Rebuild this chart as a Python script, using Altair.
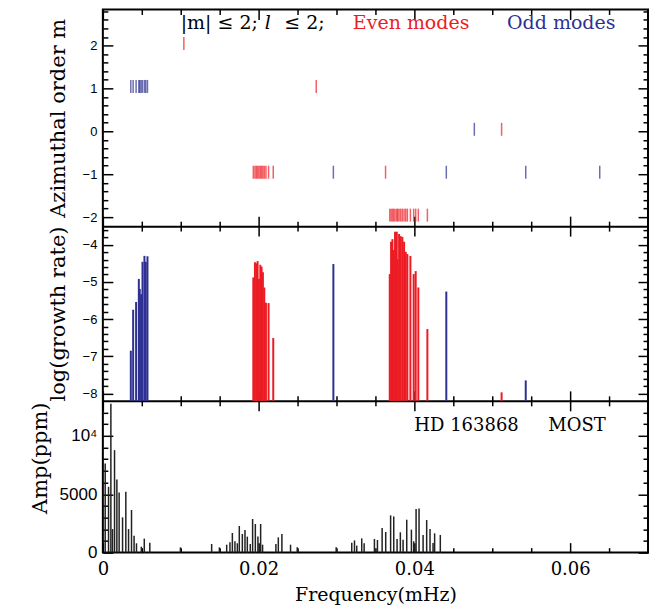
import altair as alt
import pandas as pd

RED = "#ec1c24"
BLUE = "#2e3192"

# ---------------- top panel: azimuthal order of modes ----------------
top_odd_m1 = [0.00359, 0.00389, 0.00427, 0.00462, 0.00474, 0.00491, 0.00509, 0.00534, 0.00551, 0.00573]
top_even_m2 = [0.0104]
top_even_m1 = [0.0274]
top_odd_m0 = [0.0477]
top_even_m0 = [0.0512]
top_even_mm1 = [0.01932, 0.01953, 0.01971, 0.01987, 0.02004, 0.02022, 0.02038, 0.02055,
                0.02073, 0.02094, 0.02128, 0.02188, 0.0363]
top_odd_mm1 = [0.0296, 0.0441, 0.0543, 0.0638]
top_even_mm2 = [0.03684, 0.03701, 0.03718, 0.03735, 0.03752, 0.03774, 0.03786, 0.03804,
                0.03825, 0.03846, 0.03868, 0.03889, 0.03910, 0.03949, 0.03991, 0.04017,
                0.04051, 0.04167]

# ---------------- middle panel: log growth rate ----------------
mid_odd_freq = [0.00359, 0.00389, 0.00427, 0.00462, 0.00474, 0.00491, 0.00509, 0.00534, 0.00551, 0.00573,
                0.0296, 0.0441, 0.0543]
mid_odd_lg = [-6.85, -5.75, -5.54, -4.92, -5.19, -5.33, -4.46, -4.30, -4.46, -4.31,
              -4.52, -5.26, -7.65]
mid_even_freq = [0.01932, 0.01953, 0.01971, 0.01987, 0.02004, 0.02022, 0.02038, 0.02055,
                 0.02073, 0.02094, 0.02128, 0.02188,
                 0.03684, 0.03701, 0.03718, 0.03735, 0.03752, 0.03774, 0.03786, 0.03804,
                 0.03825, 0.03846, 0.03868, 0.03889, 0.03910, 0.03949, 0.03991, 0.04017,
                 0.04051, 0.04167, 0.0512]
mid_even_lg = [-4.88, -4.47, -4.50, -4.44, -4.92, -4.54, -4.59, -4.74,
               -5.15, -5.56, -5.57, -6.51,
               -4.79, -3.92, -3.85, -4.14, -3.65, -3.65, -4.39, -3.71,
               -3.77, -3.79, -3.92, -4.19, -4.25, -4.30, -4.79, -4.71,
               -5.15, -6.27, -7.97]

# ---------------- bottom panel: observed amplitude spectrum ----------------
amp_freq = [0.0003, 0.00073, 0.00103, 0.00124, 0.0015, 0.0018, 0.00209, 0.00253, 0.00295, 0.0033,
            0.00368, 0.00401, 0.00432, 0.00494, 0.00532, 0.00603, 0.00996, 0.01397, 0.01496, 0.0159,
            0.01632, 0.01663, 0.01696, 0.01727, 0.01752, 0.01791, 0.01825, 0.01855, 0.01893, 0.01923,
            0.01958, 0.01991, 0.02026, 0.02051, 0.02222, 0.02253, 0.02299, 0.0241, 0.02496, 0.02996,
            0.03196, 0.03231, 0.0326, 0.03324, 0.03355, 0.03487, 0.03526, 0.03586, 0.03632, 0.03695,
            0.03735, 0.03778, 0.0382, 0.03855, 0.03902, 0.03962, 0.03991, 0.04022, 0.0406, 0.04112,
            0.04158, 0.04201, 0.0424, 0.0426, 0.04333]
amp_val = [7630, 5640, 12760, 2020, 8780, 6270, 5160, 3020, 5210, 2020,
           3650, 1450, 800, 510, 1200, 850, 450, 740, 450, 680,
           880, 1680, 970, 800, 2280, 1600, 1940, 1370, 740, 2880,
           2450, 1390, 2450, 680, 740, 1310, 1600, 680, 450, 450,
           850, 1050, 600, 1220, 800, 1170, 1080, 2110, 1770, 3190,
           3100, 1170, 1740, 1110, 2820, 1970, 970, 3730, 3790, 1510,
           2790, 2020, 830, 1650, 1510]

# ---------------- axes ----------------
X_DOM = [0, 0.07]
X_MAJOR = [0, 0.02, 0.04, 0.06]
X_MINOR = [0.005, 0.01, 0.015, 0.025, 0.03, 0.035, 0.045, 0.05, 0.055, 0.065]

TOP_DOM = [-2.21, 2.84]
TOP_MAJOR = [-2, -1, 0, 1, 2]
TOP_MINOR = [-1.8, -1.6, -1.4, -1.2, -0.8, -0.6, -0.4, -0.2, 0.2, 0.4, 0.6, 0.8,
             1.2, 1.4, 1.6, 1.8, 2.2, 2.4, 2.6, 2.8]

MID_DOM = [-8.2, -3.5]
MID_MAJOR = [-8, -7, -6, -5, -4]
MID_MINOR = [-7.8, -7.6, -7.4, -7.2, -6.8, -6.6, -6.4, -6.2, -5.8, -5.6, -5.4, -5.2,
             -4.8, -4.6, -4.4, -4.2, -3.8, -3.6]

BOT_DOM = [0, 13000]
BOT_MAJOR = [0, 5000, 10000]
BOT_MINOR = [1000, 2000, 3000, 4000, 6000, 7000, 8000, 9000, 11000, 12000]

# ---------------- annotations ----------------
top_text = ["|m| ≤ 2;", "≤ 2;", "Even modes", "Odd modes"]
top_text_f = [0.0100, 0.0233, 0.0321, 0.0519]
top_text_col = ["black", "black", RED, BLUE]
top_ital = ["l"]
top_ital_f = [0.0208]
TOP_TEXT_M = 2.53
bot_text = ["HD 163868", "MOST"]
bot_text_f = [0.0400, 0.0572]
BOT_TEXT_AMP = 10850

# ---------------- layout ----------------
W = 546
H_TOP, H_MID, H_BOT = 217, 175, 152
H = H_TOP + H_MID + H_BOT
SERIF = "DejaVu Serif"
SANS = "Liberation Sans"

PANELS = {
    "top": dict(dom=TOP_DOM, rng=[H_TOP, 0], major=TOP_MAJOR, minor=TOP_MINOR,
                title="Azimuthal order m", lab_size=13, lab_expr=None, tpad=14, title_y=None),
    "mid": dict(dom=MID_DOM, rng=[H_TOP + H_MID, H_TOP], major=MID_MAJOR, minor=MID_MINOR,
                title="log(growth rate)", lab_size=13, lab_expr=None, tpad=14, title_y=None),
    "bot": dict(dom=BOT_DOM, rng=[H, H_TOP + H_MID], major=BOT_MAJOR, minor=BOT_MINOR,
                title="Amp(ppm)", lab_size=17,
                lab_expr="datum.value == 10000 ? '10⁴' : format(datum.value, 'd')",
                tpad=9, title_y=H_TOP + H_MID + 57),
}

XSCALE = alt.Scale(domain=X_DOM, nice=False, zero=False)


def yscale(p):
    return alt.Scale(domain=PANELS[p]["dom"], range=PANELS[p]["rng"], nice=False, zero=False)


def xs():
    return alt.X("f:Q", scale=XSCALE, axis=None)


def ys(p, field):
    return alt.Y(f"{field}:Q", scale=yscale(p), axis=None)


def frame_layers(p):
    P = PANELS[p]
    bottom_px, top_px = P["rng"]
    is_bot = p == "bot"
    df = pd.DataFrame({"f": [X_DOM[0]], "v": [P["dom"][0]]})
    specs = [("bottom", "left", X_MAJOR, P["major"], 10, True),
             ("bottom", "left", X_MINOR, P["minor"], 5, False),
             ("top", "right", X_MAJOR, P["major"], 10, False),
             ("top", "right", X_MINOR, P["minor"], 5, False)]
    out = []
    for xo, yo, xv, yv, ts, main in specs:
        xoff = (bottom_px - H) if xo == "bottom" else -top_px
        xa = dict(orient=xo, offset=xoff, values=xv, tickSize={"expr": str(-ts)},
                  domain=False, grid=False, labels=False, title=None,
                  minExtent=0, maxExtent=200)
        ya = dict(orient=yo, values=yv, tickSize={"expr": str(-ts)}, domain=False,
                  grid=False, labels=main, title=None, minExtent=0, maxExtent=200)
        if main and not is_bot:
            # separator line between panels
            xa.update(domain=True, domainColor="black", domainWidth=2)
        if main and is_bot:
            xa.update(labels=True, labelFont=SERIF, labelFontSize=18, labelPadding=18,
                      labelFlush=False, labelColor="black",
                      labelExpr="datum.value == 0 ? '0' : format(datum.value, '.2f')",
                      title="Frequency(mHz)", titleFont=SERIF, titleFontSize=19,
                      titleFontWeight="normal", titlePadding=7, titleColor="black")
        if main:
            ya.update(labelFont=SANS, labelFontSize=P["lab_size"], labelPadding=16,
                      labelColor="black", title=P["title"], titleFont=SERIF,
                      titleFontSize=21, titleFontWeight="normal",
                      titlePadding=P["tpad"], titleColor="black")
            if P["lab_expr"]:
                ya.update(labelExpr=P["lab_expr"])
            if P["title_y"] is not None:
                ya.update(titleY=P["title_y"])
        out.append(
            alt.Chart(df).mark_point(opacity=0, size=1).encode(
                x=alt.X("f:Q", scale=XSCALE, axis=alt.Axis(**xa)),
                y=alt.Y("v:Q", scale=yscale(p), axis=alt.Axis(**ya)),
            )
        )
    return out


pcol = alt.Color("parity:N", scale=alt.Scale(domain=["even", "odd"], range=[RED, BLUE]), legend=None)

# ---- top panel marks
top_rows = []
for lst, m, par in [(top_odd_m1, 1, "odd"), (top_even_m2, 2, "even"), (top_even_m1, 1, "even"),
                    (top_odd_m0, 0, "odd"), (top_even_m0, 0, "even"), (top_even_mm1, -1, "even"),
                    (top_odd_mm1, -1, "odd"), (top_even_mm2, -2, "even")]:
    for f in lst:
        top_rows.append({"f": f, "m": m, "parity": par})
top_df = pd.DataFrame(top_rows)
top_ticks = alt.Chart(top_df).mark_tick(orient="vertical", size=13, thickness=1.5, yOffset=-2).encode(
    x=xs(), y=ys("top", "m"), color=pcol)
ttxt = pd.DataFrame({"f": top_text_f, "txt": top_text, "col": top_text_col,
                     "m": [TOP_TEXT_M] * len(top_text)})
top_txt = alt.Chart(ttxt).mark_text(align="left", baseline="middle", font=SERIF, fontSize=19).encode(
    x=xs(), y=ys("top", "m"), text="txt:N", color=alt.Color("col:N", scale=None))
itxt = pd.DataFrame({"f": top_ital_f, "txt": top_ital, "m": [TOP_TEXT_M] * len(top_ital)})
top_ital_txt = alt.Chart(itxt).mark_text(align="left", baseline="middle", font=SERIF, fontSize=19,
                                         fontStyle="italic", color="black").encode(
    x=xs(), y=ys("top", "m"), text="txt:N")

# ---- middle panel marks
mid_df = pd.DataFrame({"f": mid_odd_freq + mid_even_freq, "lg": mid_odd_lg + mid_even_lg,
                       "parity": ["odd"] * len(mid_odd_freq) + ["even"] * len(mid_even_freq)})
mid_bars = alt.Chart(mid_df).mark_rule(strokeWidth=2).encode(
    x=xs(), y=ys("mid", "lg"), y2=alt.datum(MID_DOM[0]), color=pcol)

# ---- bottom panel marks
bot_df = pd.DataFrame({"f": amp_freq, "amp": amp_val})
bot_bars = alt.Chart(bot_df).mark_rule(strokeWidth=1.5, color="#222222").encode(
    x=xs(), y=ys("bot", "amp"), y2=alt.datum(0))
btxt = pd.DataFrame({"f": bot_text_f, "txt": bot_text, "amp": [BOT_TEXT_AMP] * len(bot_text)})
bot_txt = alt.Chart(btxt).mark_text(align="left", baseline="middle", font=SERIF, fontSize=18,
                                    color="black").encode(x=xs(), y=ys("bot", "amp"), text="txt:N")

layers = [top_ticks, top_txt, top_ital_txt, mid_bars, bot_bars, bot_txt]
for p in ["top", "mid", "bot"]:
    layers += frame_layers(p)

chart = alt.layer(*layers).resolve_scale(y="independent").resolve_axis(
    x="independent", y="independent"
).properties(
    width=W, height=H,
    padding={"left": 21, "top": 0, "right": 5, "bottom": 5}
).configure_view(stroke="black", strokeWidth=2).configure_axis(
    tickColor="black", tickWidth=1.5, minExtent=0
)

chart.save("out.html", embed_options={"renderer": "svg", "actions": False})
